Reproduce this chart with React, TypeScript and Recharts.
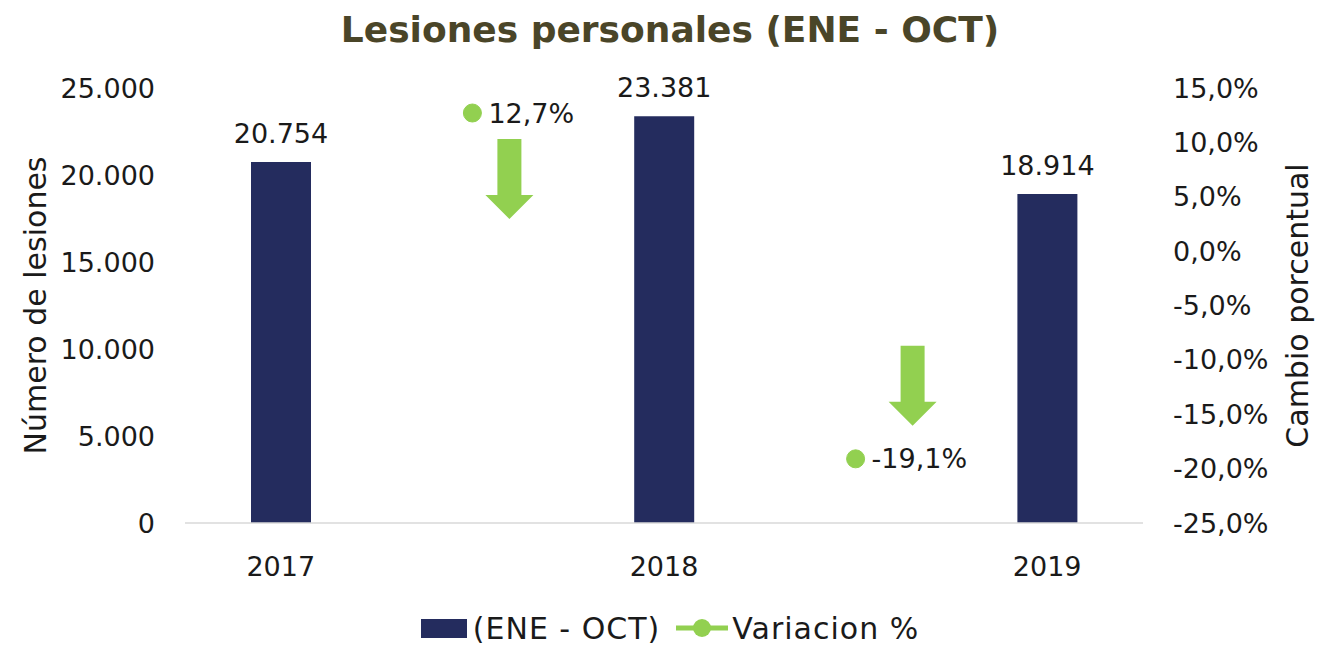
import {
  ComposedChart,
  XAxis,
  YAxis,
  Bar,
  Line,
  LabelList,
  Legend,
  ReferenceDot,
} from 'recharts'

const categories = ['2017', '2017-2018', '2018', '2018-2019', '2019']
const yearLabels = ['2017', '', '2018', '', '2019']
const lesiones = [20754, null, 23381, null, 18914]
const variacion = [null, 12.7, null, -19.1, null]

const leftTicks = [0, 5000, 10000, 15000, 20000, 25000]
const rightTicks = [-25, -20, -15, -10, -5, 0, 5, 10, 15]

// flechas decorativas (categoria, valor del eje derecho donde empieza, desplazamiento)
const arrows = [
  { x: '2017-2018', top: 10.3, dx: 37 },
  { x: '2018-2019', top: -8.7, dx: 57 },
]

const FONT = '"DejaVu Sans", sans-serif'
const NAVY = '#242c5e'
const GREEN = '#92d050'

const chartData = categories.map((c, i) => ({
  key: c,
  label: yearLabels[i],
  lesiones: lesiones[i],
  variacion: variacion[i],
}))

const fmtMiles = (v: number) =>
  String(Math.round(v)).replace(/\B(?=(\d{3})+(?!\d))/g, '.')
const fmtPct = (v: number) => `${v.toFixed(1).replace('.', ',')}%`

function arrowShape(dx: number) {
  return (props: any) => {
    const cx = props.cx + dx
    const cy = props.cy
    const len = 80
    const head = 24
    const shaft = 12
    const hw = 24
    const d = `M${cx - shaft},${cy} L${cx + shaft},${cy} L${cx + shaft},${cy + len - head} L${cx + hw},${cy + len - head} L${cx},${cy + len} L${cx - hw},${cy + len - head} L${cx - shaft},${cy + len - head} Z`
    return <path d={d} fill={GREEN} />
  }
}

function CustomLegend() {
  return (
    <div
      style={{
        display: 'flex',
        justifyContent: 'center',
        alignItems: 'center',
        height: 34,
        paddingTop: 8,
        fontFamily: FONT,
        fontSize: 30,
        letterSpacing: 1,
        color: '#1a1a1a',
      }}
    >
      <span style={{ display: 'inline-block', width: 46, height: 19, background: NAVY, marginRight: 6 }} />
      <span style={{ marginRight: 16 }}>(ENE - OCT)</span>
      <svg width={52} height={20} style={{ marginRight: 4 }}>
        <line x1={0} y1={10} x2={52} y2={10} stroke={GREEN} strokeWidth={5} />
        <circle cx={26} cy={10} r={9} fill={GREEN} />
      </svg>
      <span>Variacion %</span>
    </div>
  )
}

export default function App() {
  return (
    <div style={{ position: 'absolute', left: 0, top: 0, width: 1340, height: 645, background: '#fff' }}>
      <div
        style={{
          position: 'absolute',
          top: 9,
          left: 0,
          width: 1340,
          textAlign: 'center',
          fontFamily: FONT,
          fontWeight: 'bold',
          fontSize: 36,
          color: '#4a4528',
        }}
      >
        Lesiones personales (ENE - OCT)
      </div>
      <ComposedChart
        width={1340}
        height={645}
        data={chartData}
        margin={{ top: 88, right: 0, bottom: 0, left: 0 }}
      >
        <XAxis
          dataKey="key"
          tickFormatter={(v, i) => yearLabels[i] ?? ''}
          interval={0}
          height={80}
          axisLine={{ stroke: '#d9d9d9', strokeWidth: 1.5 }}
          tickLine={false}
          tickSize={0}
          tickMargin={34}
          tick={{ fontFamily: FONT, fontSize: 27, fill: '#1a1a1a' }}
        />
        <YAxis
          yAxisId="left"
          width={185}
          domain={[0, 25000]}
          ticks={leftTicks}
          tickFormatter={fmtMiles}
          axisLine={false}
          tickLine={false}
          tickSize={0}
          tickMargin={30}
          tick={{ fontFamily: FONT, fontSize: 27, fill: '#1a1a1a' }}
          label={({ viewBox }: any) => (
            <text
              x={viewBox.x + 35}
              y={viewBox.y + viewBox.height / 2}
              transform={`rotate(-90 ${viewBox.x + 35} ${viewBox.y + viewBox.height / 2})`}
              textAnchor="middle"
              dominantBaseline="central"
              fontFamily={FONT}
              fontSize={30}
              fill="#1a1a1a"
            >
              Número de lesiones
            </text>
          )}
        />
        <YAxis
          yAxisId="right"
          orientation="right"
          width={197}
          domain={[-25, 15]}
          ticks={rightTicks}
          tickFormatter={fmtPct}
          axisLine={false}
          tickLine={false}
          tickSize={0}
          tickMargin={30}
          tick={{ fontFamily: FONT, fontSize: 27, fill: '#1a1a1a' }}
          label={({ viewBox }: any) => (
            <text
              x={viewBox.x + 154}
              y={viewBox.y + viewBox.height / 2}
              transform={`rotate(-90 ${viewBox.x + 154} ${viewBox.y + viewBox.height / 2})`}
              textAnchor="middle"
              dominantBaseline="central"
              fontFamily={FONT}
              fontSize={30}
              fill="#1a1a1a"
            >
              Cambio porcentual
            </text>
          )}
        />
        <Legend verticalAlign="bottom" content={<CustomLegend />} />
        <Bar yAxisId="left" dataKey="lesiones" fill={NAVY} barSize={60} isAnimationActive={false}>
          <LabelList
            dataKey="lesiones"
            position="top"
            offset={19}
            formatter={(v: any) => (v == null ? '' : fmtMiles(v))}
            style={{ fontFamily: FONT, fontSize: 27, fill: '#1a1a1a' }}
          />
        </Bar>
        <Line
          yAxisId="right"
          dataKey="variacion"
          stroke="none"
          strokeWidth={0}
          dot={{ r: 9, fill: GREEN, stroke: GREEN, strokeWidth: 1 }}
          activeDot={false}
          isAnimationActive={false}
        >
          <LabelList
            dataKey="variacion"
            position="right"
            offset={16}
            formatter={(v: any) => (v == null ? '' : fmtPct(v))}
            style={{ fontFamily: FONT, fontSize: 27, fill: '#1a1a1a' }}
          />
        </Line>
        {arrows.map((a) => (
          <ReferenceDot
            key={a.x}
            yAxisId="right"
            x={a.x}
            y={a.top}
            shape={arrowShape(a.dx)}
          />
        ))}
      </ComposedChart>
    </div>
  )
}
